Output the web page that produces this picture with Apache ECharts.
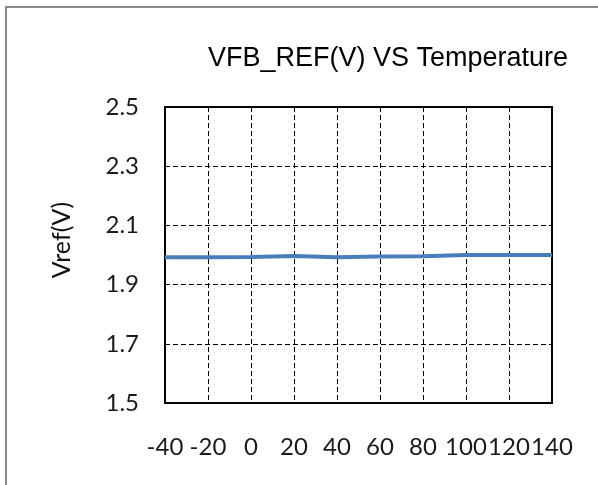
<!DOCTYPE html>
<html>
<head>
<meta charset="utf-8">
<script src="https://cdn.jsdelivr.net/npm/echarts@6/dist/echarts.min.js"></script>
<style>html,body{margin:0;padding:0;background:#fff}#c{width:598px;height:485px}</style>
</head>
<body>
<div id="c"></div>
<script>
const temperatures = [-40, -20, 0, 20, 40, 60, 80, 100, 120, 140];
const vref = [1.992, 1.992, 1.993, 1.997, 1.992, 1.995, 1.996, 2.000, 2.000, 2.000];
const titleText = 'VFB_REF(V) VS Temperature';
const yName = 'Vref(V)';

const chart = echarts.init(document.getElementById('c'));
chart.setOption({
  animation: false,
  backgroundColor: '#fff',
  title: {
    text: titleText,
    left: 383, top: 40, textAlign: 'center',
    textStyle: { fontFamily: 'Liberation Sans', fontSize: 27, fontWeight: 'normal', color: '#000' }
  },
  graphic: [
    { type: 'rect', shape: { x: 6, y: 7, width: 1000, height: 1000 }, style: { fill: 'none', stroke: '#8a8a8a', lineWidth: 2 }, silent: true },
    { type: 'text', x: 62, y: 240, rotation: Math.PI / 2,
      style: { text: yName, fontFamily: 'Lato', fontSize: 25, fill: '#111', align: 'center', verticalAlign: 'middle' } }
  ],
  grid: { left: 165, right: 46, top: 107, bottom: 82, show: true, borderColor: '#000', borderWidth: 2, backgroundColor: 'transparent' },
  xAxis: {
    type: 'value', min: -40, max: 140, interval: 20,
    axisLine: { show: false }, axisTick: { show: false },
    axisLabel: { margin: 32, fontFamily: 'Lato', fontSize: 24, color: '#1a1a1a' },
    splitLine: { show: true, lineStyle: { color: '#000', type: [5, 3], width: 1 } }
  },
  yAxis: {
    type: 'value', min: 1.5, max: 2.5, interval: 0.2,
    axisLine: { show: false }, axisTick: { show: false },
    axisLabel: { margin: 26, fontFamily: 'Lato', fontSize: 24, color: '#1a1a1a', formatter: v => v.toFixed(1) },
    splitLine: { show: true, lineStyle: { color: '#000', type: [5, 3], width: 1 } }
  },
  series: [{
    type: 'line',
    data: temperatures.map((t, i) => [t, vref[i]]),
    showSymbol: false, symbol: 'none',
    lineStyle: { color: '#4a7ebb', width: 4 },
    itemStyle: { color: '#4a7ebb' }
  }]
});
</script>
</body>
</html>
